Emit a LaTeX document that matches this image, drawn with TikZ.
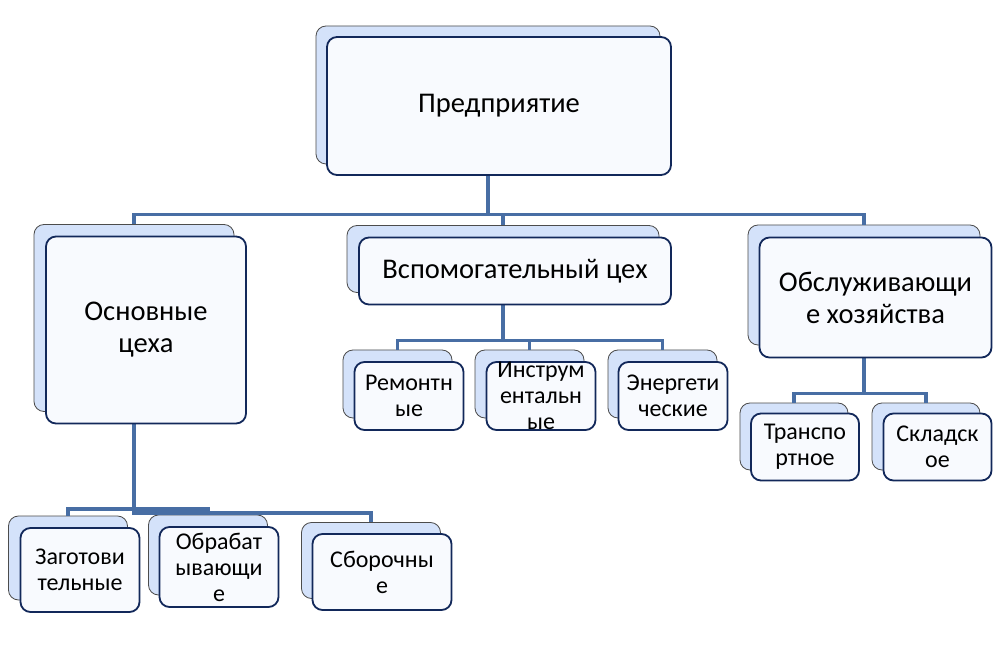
\documentclass[tikz,border=0pt]{standalone}
\usepackage{fontspec}
\setmainfont{Carlito}
\usepackage{tikz}
\usetikzlibrary{positioning, calc}

\definecolor{wireblue}{RGB}{72,110,164}
\definecolor{navy}{RGB}{18,40,90}
\definecolor{backfill}{RGB}{212,226,250}
\definecolor{frontfill}{RGB}{248,250,254}

\begin{document}
\begin{tikzpicture}[x=1pt, y=-1pt,
    backbox/.style={draw=black!70, line width=0.8pt, fill=backfill, rounded corners=10pt, inner sep=0pt},
    frontbox/.style={draw=navy, line width=1.8pt, fill=frontfill, rounded corners=10pt, inner sep=0pt},
    wire/.style={draw=wireblue, line width=3.2pt},
    bigtext/.style={align=center, inner sep=0pt, font=\fontsize{28.5}{32}\selectfont},
    smalltext/.style={align=center, inner sep=0pt, font=\fontsize{24}{26}\selectfont}]
    \useasboundingbox[fill=white] (0,0) rectangle (997,647);

    % back boxes
    \node[backbox, minimum width=344, minimum height=138] (b0) at (488,95) {};
    \node[backbox, minimum width=200, minimum height=187] (b1) at (134,318) {};
    \node[backbox, minimum width=312, minimum height=67] (b2) at (503,259) {};
    \node[backbox, minimum width=232, minimum height=120] (b3) at (864,285) {};
    \node[backbox, minimum width=109, minimum height=68] (b4) at (397.5,384) {};
    \node[backbox, minimum width=109, minimum height=68] (b5) at (529.5,384) {};
    \node[backbox, minimum width=109, minimum height=68] (b6) at (662.5,384) {};
    \node[backbox, minimum width=108, minimum height=67] (b7) at (794,436.5) {};
    \node[backbox, minimum width=108, minimum height=67] (b8) at (926,436.5) {};
    \node[backbox, minimum width=119, minimum height=84] (b9) at (68,558) {};
    \node[backbox, minimum width=119, minimum height=80] (b10) at (208,555) {};
    \node[backbox, minimum width=139, minimum height=76] (b11) at (371,560.5) {};

    % connectors
    \draw[wire] (b0.south) -- ++(0,50) -| (b1.north);
    \draw[wire] (b0.south) -- ++(0,50) -| (b2.north);
    \draw[wire] (b0.south) -- ++(0,50) -| (b3.north);
    \draw[wire] (b2.south) -- ++(0,48) -| (b4.north);
    \draw[wire] (b2.south) -- ++(0,48) -| (b5.north);
    \draw[wire] (b2.south) -- ++(0,48) -| (b6.north);
    \draw[wire] (b3.south) -- ++(0,48) -| (b7.north);
    \draw[wire] (b3.south) -- ++(0,48) -| (b8.north);
    \draw[wire] (b1.south) -- ++(0,97) -| (b9.north);
    \draw[wire] (b1.south) -- ++(0,97) -| (b10.north);
    \draw[wire] (b1.south) -- ++(0,101) -| (b11.north);

    % front boxes
    \node[frontbox, minimum width=344, minimum height=138] (f0) at (499,106) {};
    \node[frontbox, minimum width=200, minimum height=187] (f1) at (146,330) {};
    \node[frontbox, minimum width=312, minimum height=67] (f2) at (515,271) {};
    \node[frontbox, minimum width=232, minimum height=120] (f3) at (875.5,297.5) {};
    \node[frontbox, minimum width=109, minimum height=68] (f4) at (409,396) {};
    \node[frontbox, minimum width=109, minimum height=68] (f5) at (541,396) {};
    \node[frontbox, minimum width=109, minimum height=68] (f6) at (673,396) {};
    \node[frontbox, minimum width=108, minimum height=67] (f7) at (805,447) {};
    \node[frontbox, minimum width=108, minimum height=67] (f8) at (937.5,447) {};
    \node[frontbox, minimum width=119, minimum height=84] (f9) at (80,570) {};
    \node[frontbox, minimum width=119, minimum height=80] (f10) at (219,567) {};
    \node[frontbox, minimum width=139, minimum height=76] (f11) at (382,572) {};

    % labels
    \node[bigtext] (t0) at (f0) {Предприятие};
    \node[bigtext] (t1) at (f1) {Основные\\цеха};
    \node[bigtext] (t2) at (f2) {Вспомогательный цех};
    \node[bigtext] (t3) at (f3) {Обслуживающи\\е хозяйства};
    \node[smalltext] (t4) at (f4) {Ремонтн\\ые};
    \node[smalltext] (t5) at (f5) {Инструм\\ентальн\\ые};
    \node[smalltext] (t6) at (f6) {Энергети\\ческие};
    \node[smalltext] (t7) at (f7) {Транспо\\ртное};
    \node[smalltext] (t8) at (f8) {Складск\\ое};
    \node[smalltext] (t9) at (f9) {Заготови\\тельные};
    \node[smalltext] (t10) at (f10) {Обрабат\\ывающи\\е};
    \node[smalltext] (t11) at (f11) {Сборочны\\е};
\end{tikzpicture}
\end{document}
